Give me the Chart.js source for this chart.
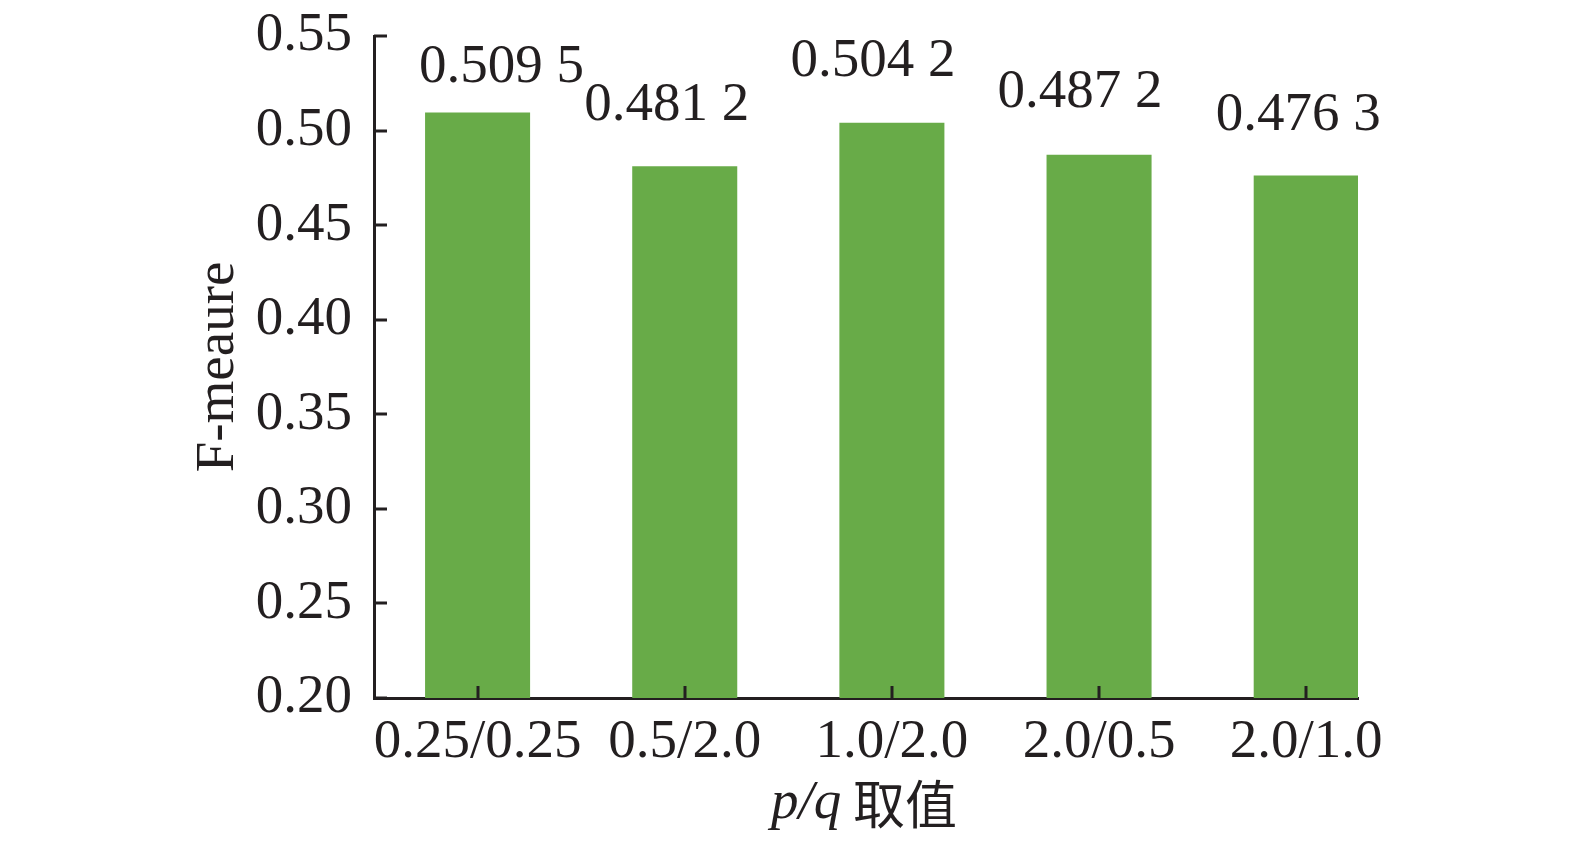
<!DOCTYPE html>
<html>
<head>
<meta charset="utf-8">
<script src="https://cdn.jsdelivr.net/npm/chart.js@4.4.0/dist/chart.umd.min.js"></script>
<style>
  html, body { margin: 0; padding: 0; background: #fff; }
  #wrap { width: 1575px; height: 845px; }
</style>
</head>
<body>
<div id="wrap"><canvas id="chart-bar" width="1575" height="845"></canvas></div>
<script>
// data
var categories = ['0.25/0.25', '0.5/2.0', '1.0/2.0', '2.0/0.5', '2.0/1.0'];
var fmeasure = [0.5095, 0.4812, 0.5042, 0.4872, 0.4763];
var valueLabels = ['0.509 5', '0.481 2', '0.504 2', '0.487 2', '0.476 3'];
var yTicks = [0.20, 0.25, 0.30, 0.35, 0.40, 0.45, 0.50, 0.55];

// label nudges (pixels) relative to the bar top, as in the original
var labelDx = [24, -18, -19, -19, -8];
var labelDy = [45, 61, 61, 62, 60];

var ink = '#231f20';
var serif = '"Liberation Serif", "Times New Roman", serif';
var fs = 55;

var decorations = {
  id: 'decorations',
  afterDatasetsDraw: function(chart) {
    var ctx = chart.ctx;
    var x = chart.scales.x, y = chart.scales.y;
    var area = chart.chartArea;
    ctx.save();
    ctx.strokeStyle = ink;
    ctx.lineWidth = 3;
    // inward tick marks on y axis
    yTicks.forEach(function(v) {
      var py = Math.round(y.getPixelForValue(v));
      ctx.beginPath();
      ctx.moveTo(area.left, py);
      ctx.lineTo(area.left + 13, py);
      ctx.stroke();
    });
    // inward tick marks on x axis
    categories.forEach(function(c, i) {
      var px = Math.round(x.getPixelForValue(i));
      ctx.beginPath();
      ctx.moveTo(px, area.bottom);
      ctx.lineTo(px, area.bottom - 12);
      ctx.stroke();
    });
    // value labels
    ctx.fillStyle = ink;
    ctx.font = fs + 'px ' + serif;
    ctx.textAlign = 'center';
    ctx.textBaseline = 'middle';
    var meta = chart.getDatasetMeta(0);
    meta.data.forEach(function(bar, i) {
      ctx.fillText(valueLabels[i], bar.x + labelDx[i], bar.y - labelDy[i]);
    });
    // y title
    ctx.save();
    ctx.translate(219, 367);
    ctx.rotate(-Math.PI / 2);
    ctx.fillText('F-meaure', 0, 0);
    ctx.restore();
    // x title: italic p/q + 取值
    var t1 = 'p/q', t2 = ' 取值';
    ctx.font = 'italic ' + fs + 'px ' + serif;
    var w1 = ctx.measureText(t1).width;
    ctx.font = '52px "Noto Sans CJK SC", ' + serif;
    var w2 = ctx.measureText(t2).width;
    var sx = 864 - (w1 + w2) / 2;
    ctx.textAlign = 'left';
    ctx.font = 'italic ' + fs + 'px ' + serif;
    ctx.fillText(t1, sx, 804);
    ctx.font = '52px "Noto Sans CJK SC", ' + serif;
    ctx.fillText(t2, sx + w1, 804);
    ctx.restore();
  }
};

var ctx = document.getElementById('chart-bar');
new Chart(ctx, {
  type: 'bar',
  data: {
    datasets: [{
      label: 'F-meaure',
      data: fmeasure.map(function(v, i) { return { x: i, y: v }; }),
      backgroundColor: '#68ab48',
      borderWidth: 0,
      barPercentage: 0.507,
      categoryPercentage: 1.0
    }]
  },
  options: {
    responsive: false,
    animation: false,
    devicePixelRatio: 1,
    layout: { padding: { top: 36, right: 217, left: 0, bottom: 0 } },
    plugins: { legend: { display: false }, tooltip: { enabled: false } },
    scales: {
      x: {
        type: 'linear',
        offset: false,
        min: -0.5,
        max: 4.25,
        afterBuildTicks: function(s) {
          s.ticks = categories.map(function(c, i) { return { value: i }; });
        },
        afterFit: function(s) {
          s.height = 845 - 698;
          s.paddingLeft = 0; s.paddingRight = 0;
        },
        grid: { display: false, drawTicks: false, offset: false },
        border: { display: true, color: ink, width: 3 },
        ticks: {
          color: ink,
          padding: 12,
          maxRotation: 0,
          autoSkip: false,
          font: { family: serif, size: fs },
          callback: function(v) { return categories[v]; }
        }
      },
      y: {
        min: 0.20,
        max: 0.55,
        afterBuildTicks: function(s) {
          s.ticks = yTicks.map(function(v) { return { value: v }; });
        },
        afterFit: function(s) {
          s.width = 374;
          s.paddingTop = 0; s.paddingBottom = 0;
        },
        grid: { display: false, drawTicks: false },
        border: { display: true, color: ink, width: 3 },
        ticks: {
          color: ink,
          padding: 22,
          font: { family: serif, size: fs },
          callback: function(v) { return v.toFixed(2); }
        }
      }
    }
  },
  plugins: [decorations]
});
</script>
</body>
</html>
